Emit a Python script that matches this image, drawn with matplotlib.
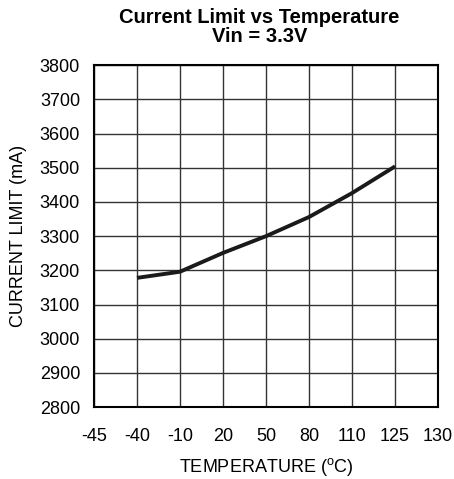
import matplotlib
matplotlib.use('Agg')
import matplotlib.pyplot as plt

plt.rcParams['font.family'] = ['Liberation Sans', 'DejaVu Sans']
plt.rcParams['mathtext.fontset'] = 'custom'
plt.rcParams['mathtext.rm'] = 'Liberation Sans'

# temperature tick labels (categorical axis)
temp_labels = ['-45', '-40', '-10', '20', '50', '80', '110', '125', '130']
# curve samples: tick index and current limit (mA)
temp_idx = [1, 2, 3, 4, 5, 6, 7]
current_ma = [3178, 3196, 3251, 3300, 3356, 3426, 3504]
y_ticks = list(range(2800, 3801, 100))

fig = plt.figure(figsize=(4.54, 4.79), dpi=100)
ax = fig.add_axes([0.207, 0.150, 0.758, 0.714])

ax.plot(temp_idx, current_ma, color='#1a1a1a', linewidth=2.8, solid_capstyle='butt', zorder=3)

ax.set_xlim(0, len(temp_labels) - 1)
ax.set_ylim(2800, 3800)
ax.set_xticks(range(len(temp_labels)))
ax.set_xticklabels(temp_labels)
ax.set_yticks(y_ticks)
ax.grid(True, color='#333333', linewidth=1.0)
ax.set_axisbelow(True)
ax.tick_params(axis='both', length=0, labelsize=13)
ax.tick_params(axis='x', pad=15)
ax.tick_params(axis='y', pad=10)
for s in ax.spines.values():
    s.set_linewidth(1.5)
    s.set_color('black')

ax.set_xlabel(r'TEMPERATURE ($^{\mathrm{o}}$C)', fontsize=13, labelpad=8)
ax.set_ylabel('CURRENT LIMIT (mA)', fontsize=13, labelpad=9)
fig.text(0.571, 0.963, 'Current Limit vs Temperature', ha='center', va='center',
         fontsize=14.5, fontweight='bold')
fig.text(0.571, 0.924, 'Vin = 3.3V', ha='center', va='center',
         fontsize=14.5, fontweight='bold')

fig.savefig('out.png', dpi=100)
